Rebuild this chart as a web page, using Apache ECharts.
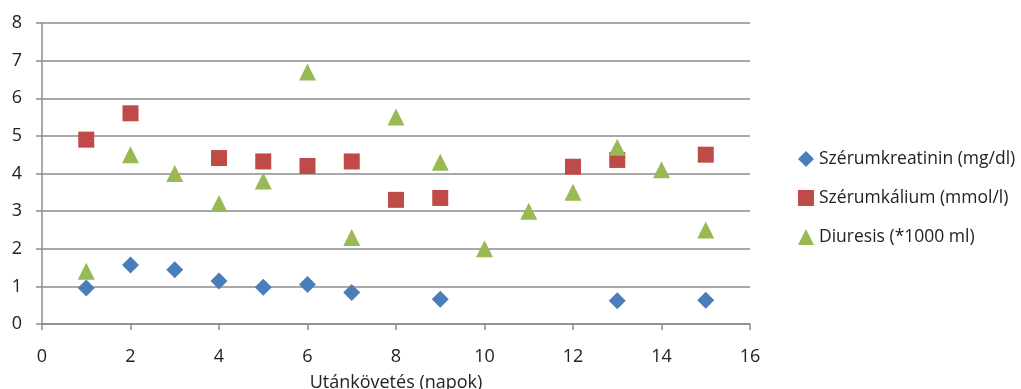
<!DOCTYPE html>
<html>
<head>
<meta charset="utf-8">
<script src="https://cdn.jsdelivr.net/npm/echarts@6/dist/echarts.min.js"></script>
<style>
  html, body { margin: 0; padding: 0; background: #fff; }
  #chart { width: 1021px; height: 389px; }
</style>
</head>
<body>
<div id="chart"></div>
<script>
// adatok
var seriesNames = ['Szérumkreatinin (mg/dl)', 'Szérumkálium (mmol/l)', 'Diuresis (*1000 ml)'];

var kreatininDays = [1, 2, 3, 4, 5, 6, 7, 9, 13, 15];
var kreatinin = [0.96, 1.57, 1.44, 1.14, 0.98, 1.05, 0.84, 0.66, 0.62, 0.63];

var kaliumDays = [1, 2, 4, 5, 6, 7, 8, 9, 12, 13, 15];
var kalium = [4.9, 5.6, 4.41, 4.32, 4.2, 4.32, 3.3, 3.35, 4.18, 4.36, 4.5];

var diuresisDays = [1, 2, 3, 4, 5, 6, 7, 8, 9, 10, 11, 12, 13, 14, 15];
var diuresis = [1.4, 4.5, 4.0, 3.2, 3.8, 6.7, 2.3, 5.5, 4.3, 2.0, 3.0, 3.5, 4.7, 4.1, 2.5];

function pairs(xs, ys) {
    return xs.map(function (x, i) { return [x, ys[i]]; });
}

var font = '"Open Sans", "Noto Sans", sans-serif';
var myChart = echarts.init(document.getElementById('chart'));

var option = {
    animation: false,
    textStyle: { fontFamily: font },
    grid: { left: 42, right: 271, top: 23, bottom: 65, outerBoundsMode: 'none', containLabel: false },
    legend: {
        orient: 'vertical',
        left: 793,
        top: 145,
        itemGap: 21,
        itemWidth: 16,
        itemHeight: 16,
        textStyle: { fontSize: 17.5, color: '#222', fontFamily: font },
        data: [
            { name: seriesNames[0], icon: 'diamond' },
            { name: seriesNames[1], icon: 'rect' },
            { name: seriesNames[2], icon: 'triangle' }
        ]
    },
    xAxis: {
        type: 'value',
        min: 0, max: 16, interval: 2,
        name: 'Utánkövetés (napok)',
        nameLocation: 'middle',
        nameGap: 50,
        nameTextStyle: { fontSize: 18, color: '#222' },
        axisLine: { show: true, lineStyle: { color: '#8c8c8c', width: 1.5 } },
        axisTick: { show: true, length: 6, lineStyle: { color: '#8c8c8c', width: 1.5 } },
        axisLabel: { fontSize: 18, color: '#222', margin: 24 },
        splitLine: { show: false }
    },
    yAxis: {
        type: 'value',
        min: 0, max: 8, interval: 1,
        axisLine: { show: true, lineStyle: { color: '#8c8c8c', width: 1.5 } },
        axisTick: { show: true, length: 6, lineStyle: { color: '#8c8c8c', width: 1.5 } },
        axisLabel: { fontSize: 18, color: '#222', margin: 20 },
        splitLine: { show: true, lineStyle: { color: '#8c8c8c', width: 1.5 } }
    },
    series: [
        {
            name: seriesNames[0],
            type: 'scatter',
            symbol: 'diamond',
            symbolSize: 17,
            itemStyle: { color: '#4a7ebb', opacity: 1 },
            data: pairs(kreatininDays, kreatinin)
        },
        {
            name: seriesNames[1],
            type: 'scatter',
            symbol: 'rect',
            symbolSize: 16,
            itemStyle: { color: '#be4b48', opacity: 1 },
            data: pairs(kaliumDays, kalium)
        },
        {
            name: seriesNames[2],
            type: 'scatter',
            symbol: 'triangle',
            symbolSize: 17,
            itemStyle: { color: '#98b954', opacity: 1 },
            data: pairs(diuresisDays, diuresis)
        }
    ]
};
myChart.setOption(option);
</script>
</body>
</html>
